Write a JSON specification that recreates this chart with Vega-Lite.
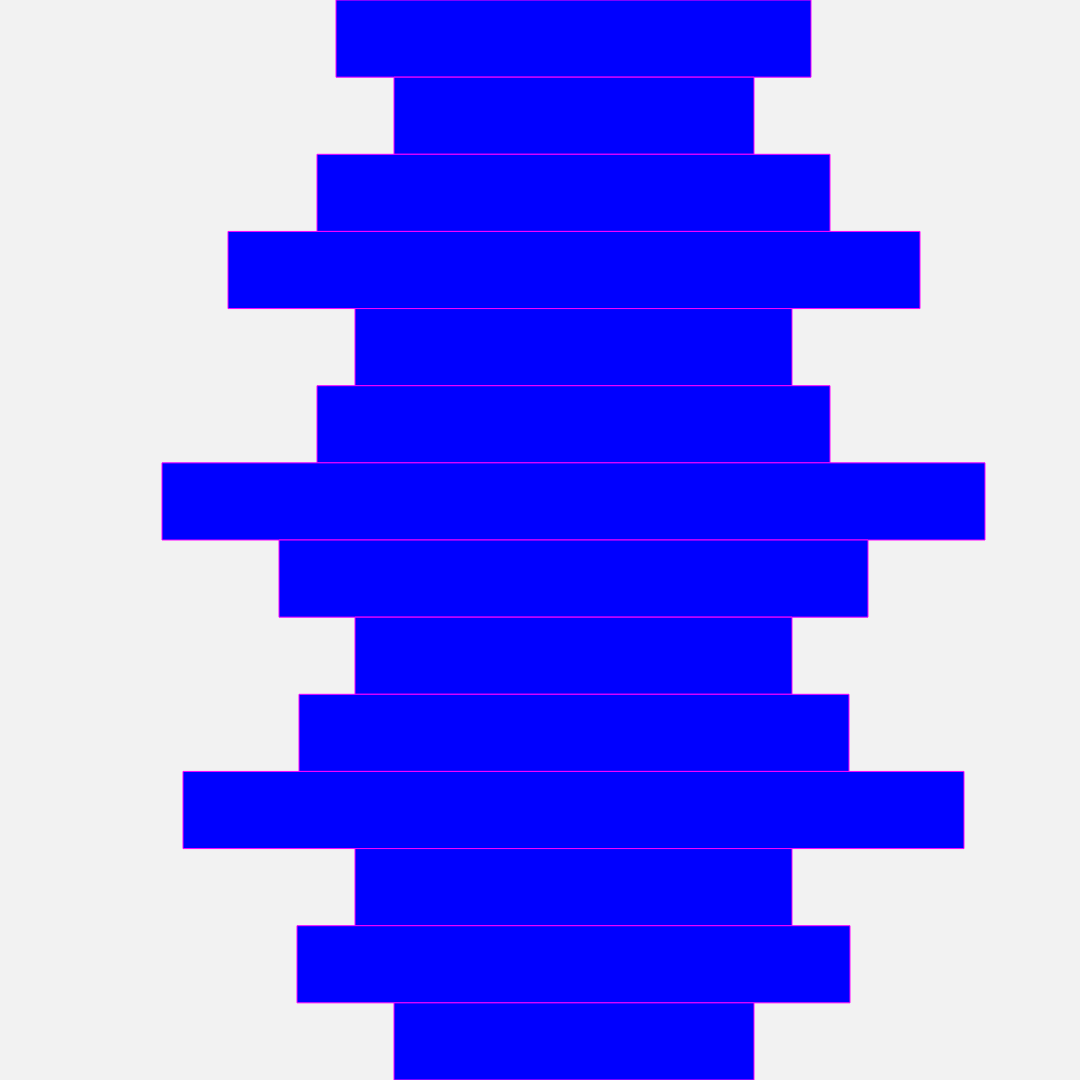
{
  "$schema": "https://vega.github.io/schema/vega-lite/v6.json",
  "width": 1080,
  "height": 1080,
  "padding": 0,
  "autosize": {"type": "none"},
  "background": "#f2f2f2",
  "config": {"view": {"stroke": null}},
  "data": {
    "values": [
      {"row": 1, "start": 336, "end": 811},
      {"row": 2, "start": 394, "end": 754},
      {"row": 3, "start": 317, "end": 830},
      {"row": 4, "start": 228, "end": 920},
      {"row": 5, "start": 355, "end": 792},
      {"row": 6, "start": 317, "end": 830},
      {"row": 7, "start": 162, "end": 985},
      {"row": 8, "start": 279, "end": 868},
      {"row": 9, "start": 355, "end": 792},
      {"row": 10, "start": 299, "end": 849},
      {"row": 11, "start": 183, "end": 964},
      {"row": 12, "start": 355, "end": 792},
      {"row": 13, "start": 297, "end": 850},
      {"row": 14, "start": 394, "end": 754}
    ]
  },
  "mark": {"type": "bar", "fill": "#0000ff", "stroke": "#ff00ff", "strokeWidth": 1},
  "encoding": {
    "y": {"field": "row", "type": "ordinal", "axis": null, "sort": "ascending",
          "scale": {"paddingInner": 0, "paddingOuter": 0}},
    "x": {"field": "start", "type": "quantitative", "axis": null,
          "scale": {"domain": [0, 1080], "nice": false, "zero": false}},
    "x2": {"field": "end"}
  }
}
